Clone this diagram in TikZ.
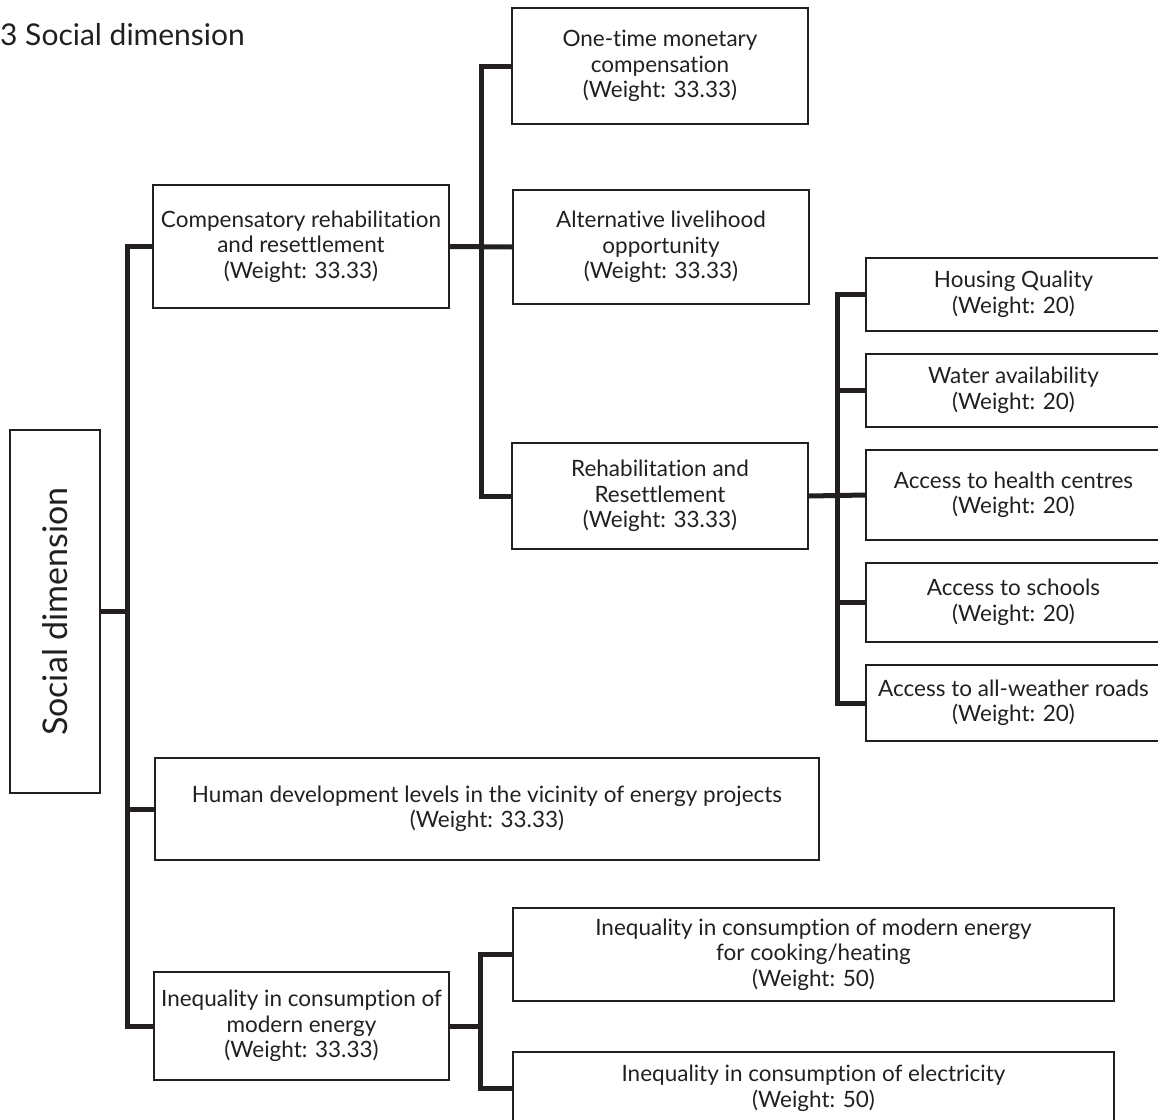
\documentclass[tikz,border=0pt]{standalone}
\usepackage{fontspec}
\setmainfont{Lato}[Ligatures=NoCommon]
\begin{document}
\definecolor{ink}{HTML}{231F20}
\begin{tikzpicture}[x=1pt,y=-1pt,
  box/.style={draw=ink, line width=1.7pt, text=ink, align=center, inner sep=0pt,
    font=\fontsize{22.5}{25.5}\selectfont},
  conn/.style={draw=ink, line width=5pt, line join=miter}]
\useasboundingbox (0,0) rectangle (1158,1119);

% heading
\node[anchor=base west, text=ink, inner sep=0pt, font=\fontsize{30}{34}\selectfont]
  (title) at (0,45) {3 Social dimension};

% root
\node[box, minimum width=90pt, minimum height=363pt] (soc) at (55,611.5)
  {\rotatebox{90}{\fontsize{34}{38}\selectfont Social dimension}};

% first level
\node[box, minimum width=296pt, minimum height=123pt] (comp) at (301,246.5)
  {Compensatory rehabilitation\\and resettlement\\(Weight: 33.33)};
\node[box, minimum width=664pt, minimum height=102pt] (hdev) at (487,809)
  {Human development levels in the vicinity of energy projects\\(Weight: 33.33)};
\node[box, minimum width=295pt, minimum height=108pt] (ineq) at (301.5,1026)
  {Inequality in consumption of\\modern energy\\(Weight: 33.33)};

% compensatory rehabilitation branch
\node[box, minimum width=296pt, minimum height=116pt] (one) at (660,66)
  {One-time monetary\\compensation\\(Weight: 33.33)};
\node[box, minimum width=296pt, minimum height=114pt] (alt) at (661,247)
  {Alternative livelihood\\opportunity\\(Weight: 33.33)};
\node[box, minimum width=296pt, minimum height=106pt] (rehab) at (660,496)
  {Rehabilitation and\\Resettlement\\(Weight: 33.33)};

% rehabilitation and resettlement branch
\node[box, minimum width=295pt, minimum height=73pt] (house) at (1013.5,294.5)
  {Housing Quality\\(Weight: 20)};
\node[box, minimum width=295pt, minimum height=73pt] (water) at (1013.5,390.5)
  {Water availability\\(Weight: 20)};
\node[box, minimum width=295pt, minimum height=90pt] (health) at (1013.5,495)
  {Access to health centres\\(Weight: 20)};
\node[box, minimum width=295pt, minimum height=79pt] (school) at (1013.5,602.5)
  {Access to schools\\(Weight: 20)};
\node[box, minimum width=295pt, minimum height=76pt] (roads) at (1013.5,703)
  {Access to all-weather roads\\(Weight: 20)};

% inequality branch
\node[box, minimum width=601pt, minimum height=93pt] (cook) at (813.5,954.5)
  {Inequality in consumption of modern energy\\for cooking/heating\\(Weight: 50)};
\node[box, minimum width=601pt, minimum height=72pt] (elec) at (813.5,1088)
  {Inequality in consumption of electricity\\(Weight: 50)};

% trunk positions
\coordinate (t1) at (127,0);
\coordinate (t2) at (481.5,0);
\coordinate (t3) at (837,0);
\coordinate (t4) at (480,0);

% connectors
\draw[conn] (comp.west) -| (t1 |- ineq.west) -- (ineq.west);
\draw[conn] (soc.east) -- (t1 |- soc.east);
\draw[conn] (hdev.west) -- (t1 |- hdev.west);

\draw[conn] (one.west) -| (t2 |- rehab.west) -- (rehab.west);
\draw[conn] (comp.east) -- (alt.west);

\draw[conn] (house.west) -| (t3 |- roads.west) -- (roads.west);
\draw[conn] (rehab.east) -- (health.west);
\draw[conn] (water.west) -- (t3 |- water.west);
\draw[conn] (school.west) -- (t3 |- school.west);

\draw[conn] (cook.west) -| (t4 |- elec.west) -- (elec.west);
\draw[conn] (ineq.east) -- (t4 |- ineq.east);
\end{tikzpicture}
\end{document}
